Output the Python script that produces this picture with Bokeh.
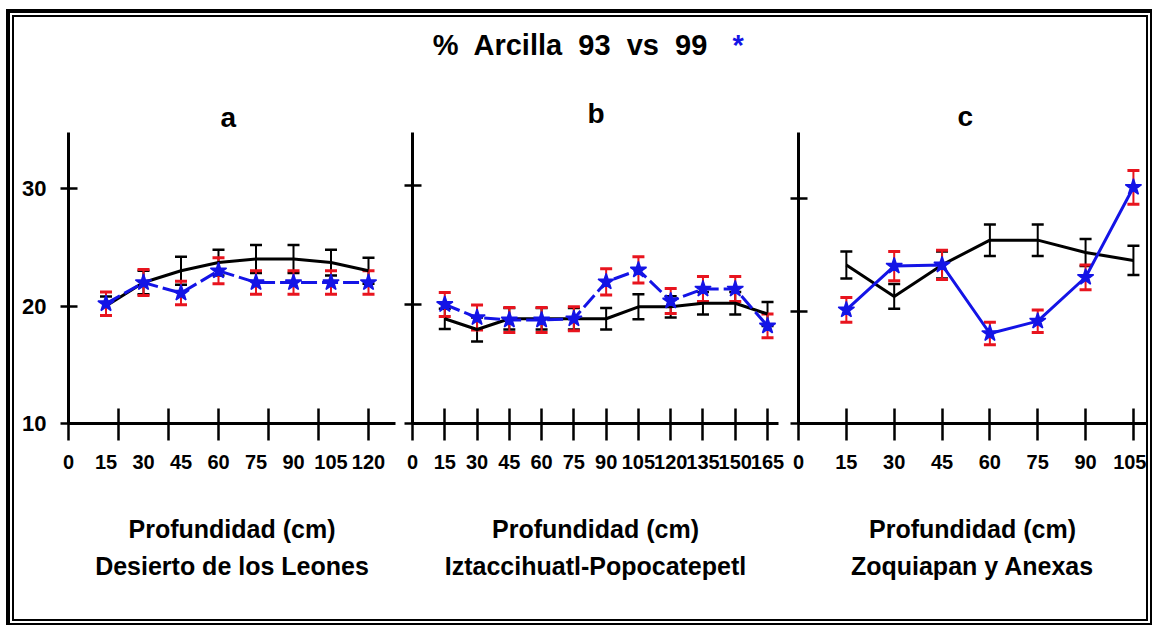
from bokeh.plotting import figure
from bokeh.models import ColumnDataSource, Whisker, TeeHead, FixedTicker, LinearAxis, Range1d
from bokeh.layouts import column, row
from bokeh.embed import file_html
from bokeh.resources import INLINE
from bokeh.core.properties import value

# ---------------- data ----------------
TITLE = "%\u00a0 Arcilla\u00a0 93\u00a0 vs\u00a0 99"
TITLE_MARK = "*"
X_TITLE = "Profundidad (cm)"
letters = ["a", "b", "c"]
sites = ["Desierto de los Leones", "Iztaccihuatl-Popocatepetl", "Zoquiapan y Anexas"]

# Panel a: Desierto de los Leones
depth_a = [15, 30, 45, 60, 75, 90, 105, 120]
clay93_a = [20.0, 22.0, 23.0, 23.7, 24.0, 24.0, 23.7, 23.0]
err93_a = [0.8, 1.0, 1.2, 1.1, 1.2, 1.2, 1.1, 1.1]
clay99_a = [20.2, 22.0, 21.1, 23.0, 22.0, 22.0, 22.0, 22.0]
err99_a = [1.0, 1.1, 1.0, 1.1, 1.0, 1.0, 1.0, 1.0]

# Panel b: Iztaccihuatl-Popocatepetl
depth_b = [15, 30, 45, 60, 75, 90, 105, 120, 135, 150, 165]
clay93_b = [18.8, 17.9, 18.8, 18.8, 18.8, 18.8, 19.8, 19.8, 20.1, 20.1, 19.2]
err93_b = [0.85, 1.0, 0.9, 0.9, 0.9, 0.9, 1.05, 0.9, 0.95, 0.95, 1.0]
clay99_b = [20.0, 18.9, 18.7, 18.7, 18.8, 21.9, 22.9, 20.3, 21.3, 21.3, 18.2]
err99_b = [1.0, 1.05, 1.05, 1.05, 1.0, 1.1, 1.1, 1.05, 1.05, 1.05, 1.0]

# Panel c: Zoquiapan y Anexas
depth_c = [15, 30, 45, 60, 75, 90, 105]
clay93_c = [24.1, 21.3, 24.1, 26.3, 26.3, 25.2, 24.5]
err93_c = [1.2, 1.1, 1.2, 1.4, 1.4, 1.2, 1.3]
clay99_c = [20.1, 24.0, 24.1, 18.0, 19.1, 23.0, 31.0]
err99_c = [1.1, 1.3, 1.3, 1.0, 1.0, 1.1, 1.5]

# axis ticks
xlabels_a = [0, 15, 30, 45, 60, 75, 90, 105, 120]
xmarks_a = [0, 20, 40, 60, 80, 100, 120]
xlabels_b = [0, 15, 30, 45, 60, 75, 90, 105, 120, 135, 150, 165]
xlabels_c = [0, 15, 30, 45, 60, 75, 90, 105]
yticks = [10, 20, 30]

# ---------------- style ----------------
BLUE = "#1414e6"
RED = "#e8141e"
SANS = "Liberation Sans"


def panel(letter, site, depth, v93, e93, v99, e99, xlabels, xmarks, xmax, ymax,
          width, mb_left, mb_right, title_offset, title_standoff, show_ylabels, dash):
    p = figure(width=width, height=539,
               x_range=Range1d(0, xmax), y_range=Range1d(10, ymax),
               output_backend="svg", toolbar_location=None,
               min_border_left=mb_left, min_border_right=mb_right,
               min_border_top=52, min_border_bottom=196)
    p.outline_line_color = None
    p.xgrid.visible = False
    p.ygrid.visible = False
    p.background_fill_color = "white"
    p.border_fill_color = "white"

    p.title.text = letter
    p.title.text_font = SANS
    p.title.text_font_style = "bold"
    p.title.text_font_size = "28px"
    p.title.text_color = "black"
    p.title.align = "left"
    p.title.offset = title_offset
    p.title.standoff = title_standoff

    # x axis
    xa = p.xaxis[0]
    if xmarks:
        xa.ticker = FixedTicker(ticks=xlabels, minor_ticks=xmarks)
        xa.major_tick_line_color = None
        xa.minor_tick_in = 15
        xa.minor_tick_out = 17
        xa.minor_tick_line_width = 2.5
        xa.minor_tick_line_color = "black"
    else:
        xa.ticker = FixedTicker(ticks=xlabels)
        xa.major_tick_line_color = "black"
        xa.minor_tick_line_color = None
    xa.major_tick_in = 15
    xa.major_tick_out = 17
    xa.major_tick_line_width = 2.5
    xa.axis_line_width = 3
    xa.axis_line_color = "black"
    xa.major_label_text_font = SANS
    xa.major_label_text_font_style = "bold"
    xa.major_label_text_font_size = "20px"
    xa.major_label_text_color = "black"
    xa.major_label_standoff = 14
    xa.axis_label = X_TITLE
    xa.axis_label_text_font = SANS
    xa.axis_label_text_font_style = "bold"
    xa.axis_label_text_font_size = "25px"
    xa.axis_label_text_color = "black"
    xa.axis_label_standoff = 43

    site_axis = LinearAxis(ticker=FixedTicker(ticks=[]), axis_line_color=None,
                           major_tick_line_color=None, minor_tick_line_color=None,
                           major_tick_in=0, major_tick_out=0, major_label_standoff=0,
                           major_label_text_font_size="0px",
                           axis_label=site, axis_label_text_font=SANS,
                           axis_label_text_font_style="bold",
                           axis_label_text_font_size="25px",
                           axis_label_text_color="black",
                           axis_label_standoff=6)
    p.add_layout(site_axis, "below")

    # y axis
    ya = p.yaxis[0]
    ya.ticker = FixedTicker(ticks=yticks)
    ya.major_tick_in = 9
    ya.major_tick_out = 8
    ya.major_tick_line_width = 2.5
    ya.major_tick_line_color = "black"
    ya.minor_tick_line_color = None
    ya.axis_line_width = 3
    ya.axis_line_color = "black"
    ya.major_label_text_font = SANS
    ya.major_label_text_font_style = "bold"
    ya.major_label_text_font_size = "22px"
    ya.major_label_text_color = "black"
    ya.major_label_standoff = 14
    if not show_ylabels:
        ya.major_label_overrides = {t: "" for t in yticks}
        ya.major_label_standoff = 0

    s93 = ColumnDataSource(dict(x=depth, y=v93,
                                lo=[v - e for v, e in zip(v93, e93)],
                                hi=[v + e for v, e in zip(v93, e93)]))
    s99 = ColumnDataSource(dict(x=depth, y=v99,
                                lo=[v - e for v, e in zip(v99, e99)],
                                hi=[v + e for v, e in zip(v99, e99)]))

    p.add_layout(Whisker(source=s93, base="x", upper="hi", lower="lo",
                         line_color="black", line_width=2,
                         upper_head=TeeHead(size=12, line_color="black", line_width=2.5),
                         lower_head=TeeHead(size=12, line_color="black", line_width=2.5)))
    p.line("x", "y", source=s93, line_color="black", line_width=3)

    p.add_layout(Whisker(source=s99, base="x", upper="hi", lower="lo",
                         line_color=RED, line_width=2,
                         upper_head=TeeHead(size=12, line_color=RED, line_width=3),
                         lower_head=TeeHead(size=12, line_color=RED, line_width=3)))
    p.line("x", "y", source=s99, line_color=BLUE, line_width=3, line_dash=dash)
    p.scatter("x", "y", source=s99, marker="star", size=17,
              fill_color=BLUE, line_color=BLUE, line_width=1.5)
    return p


pa = panel(letters[0], sites[0], depth_a, clay93_a, err93_a, clay99_a, err99_a,
           xlabels_a, xmarks_a, 130.8, 34.77,
           386, 54, 5, 152, 0, True, "16 5")
pb = panel(letters[1], sites[1], depth_b, clay93_b, err93_b, clay99_b, err99_b,
           xlabels_b, None, 170.1, 34.45,
           385, 12, 7, 175, 7, False, "16 5")
pc = panel(letters[2], sites[2], depth_c, clay93_c, err93_c, clay99_c, err99_c,
           xlabels_c, None, 109.1, 35.87,
           361, 13, 0, 159, 2, False, "solid")

tf = figure(width=1132, height=63, x_range=Range1d(0, 1132), y_range=Range1d(0, 63),
            output_backend="svg", toolbar_location=None, min_border=0,
            x_axis_location=None, y_axis_location=None)
tf.xgrid.visible = False
tf.ygrid.visible = False
tf.outline_line_color = None
tf.text(x=[556], y=[36], text=[TITLE], text_align="center", text_baseline="alphabetic",
        text_font=value(SANS), text_font_style="bold", text_font_size="29px", text_color="black")
tf.text(x=[718], y=[36], text=[TITLE_MARK], text_align="left", text_baseline="alphabetic",
        text_font=value(SANS), text_font_style="bold", text_font_size="29px", text_color=BLUE)

root = column(tf, row(pa, pb, pc), margin=(15, 0, 0, 12),
              styles={"border": "2px solid black", "outline": "4px solid black",
                      "outline-offset": "2px", "background": "white"})

open("out.html", "w").write(file_html(root, INLINE))
